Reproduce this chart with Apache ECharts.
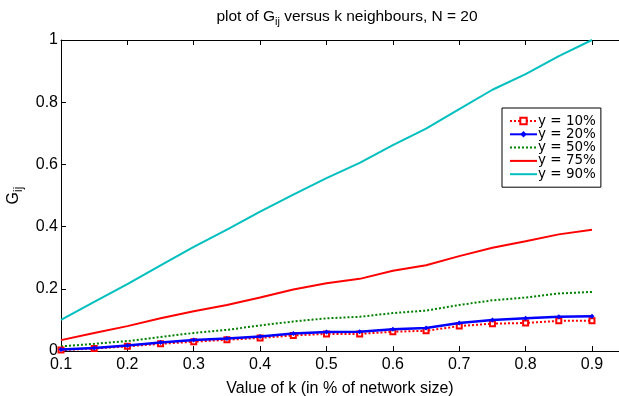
<!DOCTYPE html>
<html><head><meta charset="utf-8">
<script src="https://cdn.jsdelivr.net/npm/echarts@6/dist/echarts.min.js"></script>
<style>html,body{margin:0;padding:0;background:#fff}#c{width:619px;height:396px}</style>
</head><body><div id="c"></div>
<script>
var kValues = [0.1,0.15,0.2,0.25,0.3,0.35,0.4,0.45,0.5,0.55,0.6,0.65,0.7,0.75,0.8,0.85,0.9];
var seriesNames = ['y = 10%','y = 20%','y = 50%','y = 75%','y = 90%'];
var y10 = [0.003,0.008,0.015,0.023,0.030,0.036,0.042,0.050,0.055,0.055,0.062,0.065,0.080,0.088,0.090,0.097,0.097];
var y20 = [0.005,0.010,0.018,0.027,0.035,0.040,0.047,0.056,0.061,0.062,0.070,0.074,0.090,0.100,0.105,0.110,0.112];
var y50 = [0.015,0.023,0.032,0.045,0.058,0.068,0.082,0.095,0.105,0.110,0.122,0.130,0.148,0.163,0.172,0.185,0.190];
var y75 = [0.035,0.058,0.080,0.105,0.128,0.148,0.172,0.198,0.218,0.232,0.258,0.276,0.305,0.332,0.353,0.375,0.390];
var y90 = [0.100,0.158,0.215,0.275,0.335,0.390,0.448,0.503,0.556,0.605,0.662,0.715,0.778,0.840,0.890,0.948,1.000];
var yTicks = [0,0.2,0.4,0.6,0.8,1];

function pairs(v){ return kValues.map(function(k,i){ return [k, v[i]]; }); }
var FONT = 'Liberation Sans, Arial, sans-serif';
var LFONT = 'DejaVu Sans, sans-serif';
var chart = echarts.init(document.getElementById('c'));
var xMin = 0.1, xMax = 0.9407;
function xFmt(v){ return v > 0.91 ? '' : (+v).toFixed(1); }
var noSym = { opacity: 0 };
chart.setOption({
  animation: false,
  backgroundColor: '#fff',
  textStyle: { fontFamily: FONT },
  title: {
    text: '{a|plot of G}{s|ij}{a| versus k neighbours, N = 20}',
    left: 342, top: 2, textAlign: 'center',
    textStyle: { fontWeight: 'normal', rich: {
      a: { fontSize: 15.5, fontFamily: FONT, color: '#000', fontWeight: 'normal' },
      s: { fontSize: 11, fontFamily: FONT, color: '#000', fontWeight: 'normal', padding: [9,0,0,0] }
    } }
  },
  grid: { left: 61, right: 0, top: 40, bottom: 45, containLabel: false, outerBoundsMode: 'none' },
  legend: {
    orient: 'vertical', left: 502, top: 108,
    itemWidth: 27, itemHeight: 8, itemGap: -0.7,
    padding: [6, 5, 6, 7],
    borderColor: '#000', borderWidth: 1, backgroundColor: '#fff', borderRadius: 0,
    textStyle: { fontSize: 13.5, fontFamily: LFONT, color: '#000', padding: [0,0,0,-4] },
    data: [
      { name: seriesNames[0] },
      { name: seriesNames[1] },
      { name: seriesNames[2], itemStyle: noSym },
      { name: seriesNames[3], itemStyle: noSym },
      { name: seriesNames[4], itemStyle: noSym }
    ]
  },
  xAxis: [{
    type: 'value', min: xMin, max: xMax, interval: 0.1,
    name: 'Value of k (in % of network size)', nameLocation: 'middle', nameGap: 30,
    nameTextStyle: { fontSize: 16, fontFamily: FONT, color: '#000' },
    axisLine: { show: true, lineStyle: { color: '#000', width: 1 } },
    axisTick: { show: true, inside: true, length: 5, lineStyle: { color: '#000' } },
    axisLabel: { formatter: xFmt, fontSize: 16, fontFamily: FONT, color: '#000', margin: 6 },
    splitLine: { show: false }
  },{
    type: 'value', position: 'top', min: xMin, max: xMax, interval: 0.1,
    axisLine: { show: true, lineStyle: { color: '#000', width: 1 } },
    axisTick: { show: true, inside: true, length: 5, lineStyle: { color: '#000' } },
    axisLabel: { show: false }, splitLine: { show: false }
  }],
  yAxis: {
    type: 'value', min: 0, max: 1, interval: 0.2,
    name: '{a|G}{s|ij}', nameLocation: 'middle', nameGap: 31, nameRotate: 90,
    nameTextStyle: { rich: {
      a: { fontSize: 16, fontFamily: FONT, color: '#000' },
      s: { fontSize: 12, fontFamily: FONT, color: '#000', padding: [10,0,0,0] }
    } },
    axisLine: { show: true, lineStyle: { color: '#000', width: 1 } },
    axisTick: { show: true, inside: true, length: 5, lineStyle: { color: '#000' } },
    axisLabel: { formatter: function(v){ return String(+v.toFixed(1)); }, fontSize: 16, fontFamily: FONT, color: '#000', margin: 3 },
    splitLine: { show: false }
  },
  series: [
    { name: seriesNames[0], type: 'line', data: pairs(y10), symbol: 'emptyRect', symbolSize: 5,
      itemStyle: { color: '#ff0000', borderWidth: 2 }, lineStyle: { color: '#ff0000', width: 2, type: 'dotted' }, z: 3 },
    { name: seriesNames[1], type: 'line', data: pairs(y20), symbol: 'diamond', symbolSize: 5,
      itemStyle: { color: '#0000ff' }, lineStyle: { color: '#0000ff', width: 2.5 }, z: 4 },
    { name: seriesNames[2], type: 'line', data: pairs(y50), symbol: 'none',
      itemStyle: { color: '#008000' }, lineStyle: { color: '#008000', width: 2, type: 'dotted' } },
    { name: seriesNames[3], type: 'line', data: pairs(y75), symbol: 'none',
      itemStyle: { color: '#ff0000' }, lineStyle: { color: '#ff0000', width: 2 } },
    { name: seriesNames[4], type: 'line', data: pairs(y90), symbol: 'none',
      itemStyle: { color: '#00bfbf' }, lineStyle: { color: '#00bfbf', width: 2 } }
  ]
});
</script></body></html>
